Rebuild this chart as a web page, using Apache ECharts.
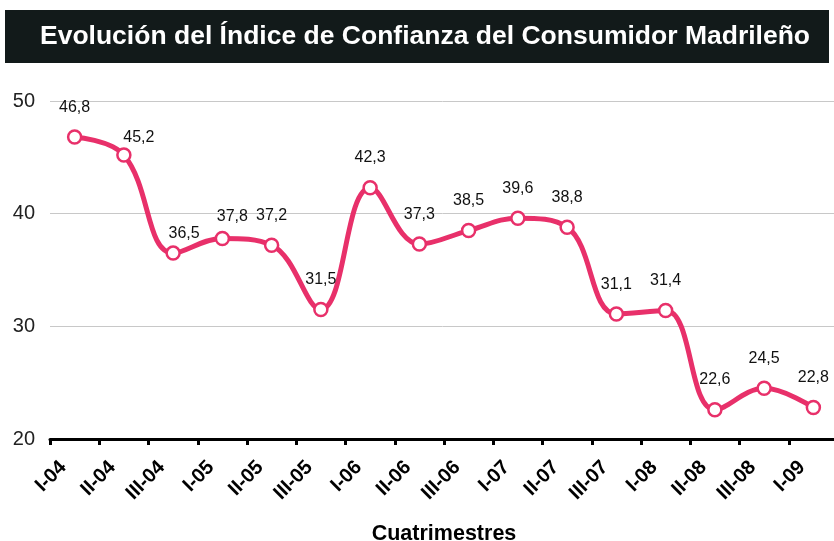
<!DOCTYPE html>
<html>
<head>
<meta charset="utf-8">
<script src="https://cdn.jsdelivr.net/npm/echarts@6/dist/echarts.min.js"></script>
<style>
  html, body { margin: 0; padding: 0; background: #fff; }
  #chart { width: 834px; height: 541px; }
</style>
</head>
<body>
<div id="chart"></div>
<script>
// datos del gráfico
const cuatrimestres = ['I-04', 'II-04', 'III-04', 'I-05', 'II-05', 'III-05', 'I-06', 'II-06',
  'III-06', 'I-07', 'II-07', 'III-07', 'I-08', 'II-08', 'III-08', 'I-09']
const indice = [46.8, 45.2, 36.5, 37.8, 37.2, 31.5, 42.3, 37.3, 38.5, 39.6, 38.8, 31.1, 31.4, 22.6, 24.5, 22.8]
const yTicks = [20, 30, 40, 50]

const FONT = '"Liberation Sans", Arial, sans-serif'
const PINK = '#e8306a'

// desplazamiento de algunas etiquetas
const labelShift = { 1: [15, 12], 2: [11, 10], 3: [10, 8] }

const chart = echarts.init(document.getElementById('chart'))

const option = {
  animation: false,
  textStyle: { fontFamily: FONT },
  graphic: [
    {
      type: 'rect',
      shape: { x: 5, y: 10, width: 824, height: 53 },
      style: { fill: '#121a1a' }
    },
    {
      type: 'text',
      x: 425,
      y: 37,
      style: {
        text: 'Evolución del Índice de Confianza del Consumidor Madrileño',
        fill: '#fff',
        font: 'bold 26.5px ' + FONT,
        align: 'center',
        verticalAlign: 'middle'
      }
    }
  ],
  grid: { left: 50, top: 101, width: 788, height: 338, containLabel: false, outerBoundsMode: 'none' },
  xAxis: {
    type: 'category',
    data: cuatrimestres,
    boundaryGap: true,
    name: 'Cuatrimestres',
    nameLocation: 'middle',
    nameGap: 84,
    nameTextStyle: { fontSize: 21.5, fontWeight: 'bold', color: '#000' },
    axisLine: { lineStyle: { color: '#000', width: 3 } },
    axisTick: { show: true, length: 6, lineStyle: { color: '#000', width: 3 } },
    axisLabel: {
      rotate: 45, fontSize: 20, fontWeight: 'bold', color: '#000', margin: 14,
      padding: [0, 16, 0, 0]
    }
  },
  yAxis: {
    type: 'value',
    min: yTicks[0],
    max: yTicks[yTicks.length - 1],
    interval: 10,
    axisLine: { show: false },
    axisTick: { show: false },
    axisLabel: { fontSize: 20, color: '#222', margin: 15 },
    splitLine: { lineStyle: { color: '#c8c8c8', width: 1 } }
  },
  series: [{
    type: 'line',
    data: indice.map((v, i) => {
      const d = { value: v }
      if (labelShift[i]) d.label = { offset: labelShift[i] }
      return d
    }),
    smooth: 0.4,
    lineStyle: { color: PINK, width: 5 },
    symbol: 'circle',
    symbolSize: 13,
    itemStyle: { color: '#fff', borderColor: PINK, borderWidth: 2.5 },
    label: {
      show: true,
      position: 'top',
      distance: 14,
      fontSize: 16,
      color: '#111',
      formatter: p => String(p.value).replace('.', ',')
    },
    z: 3
  }]
}

chart.setOption(option)
</script>
</body>
</html>
